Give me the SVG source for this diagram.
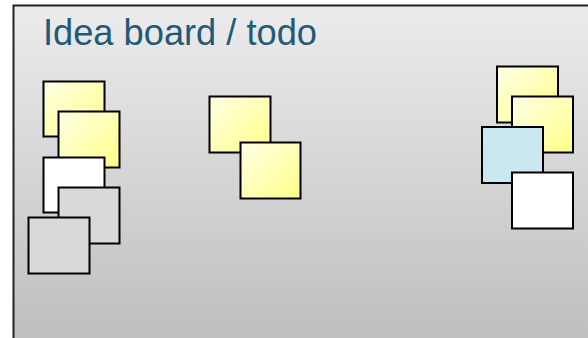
<svg xmlns="http://www.w3.org/2000/svg" width="588" height="338" viewBox="0 0 588 338">
<defs>
<linearGradient id="bg" x1="0" y1="0" x2="0" y2="1">
<stop offset="0" stop-color="#ececec"/>
<stop offset="1" stop-color="#bbbbbb"/>
</linearGradient>
<linearGradient id="yel" x1="0" y1="0" x2="1" y2="1">
<stop offset="0" stop-color="#ffffe6"/>
<stop offset="1" stop-color="#ffff88"/>
</linearGradient>
<style>
.s{stroke:#000;stroke-width:2}
.y{fill:url(#yel)}
.w{fill:#ffffff}
.g{fill:#d9d9d9}
.b{fill:#cbe7f0}
.t{font-family:"Liberation Sans",Arial,sans-serif;font-size:36px;fill:#1f5a78}
</style>
</defs>
<rect width="588" height="338" fill="#ffffff"/>
<g id="board">
<rect x="13.5" y="5.5" width="600" height="360" fill="url(#bg)" stroke="#222" stroke-width="2"/>
<text class="t" x="43" y="45" textLength="274" lengthAdjust="spacingAndGlyphs">Idea board / todo</text>
</g>
<g id="n1"><rect class="s y" x="43.5" y="81.5" width="61" height="55"/></g>
<g id="n2"><rect class="s y" x="58.5" y="111.5" width="61" height="56"/></g>
<g id="n3"><rect class="s w" x="43.5" y="157.5" width="61" height="55"/></g>
<g id="n4"><rect class="s g" x="58.5" y="187.5" width="61" height="56"/></g>
<g id="n5"><rect class="s g" x="28.5" y="217.5" width="61" height="56"/></g>
<g id="n6"><rect class="s y" x="209.5" y="96.5" width="61" height="56"/></g>
<g id="n7"><rect class="s y" x="240.5" y="142.5" width="60" height="56"/></g>
<g id="n8"><rect class="s y" x="497" y="66.5" width="61" height="56"/></g>
<g id="n9"><rect class="s y" x="512" y="96.5" width="61" height="56"/></g>
<g id="n10"><rect class="s b" x="482" y="127" width="61" height="56"/></g>
<g id="n11"><rect class="s w" x="512" y="172.5" width="61" height="56"/></g>
<g id="connectors"/>
</svg>
